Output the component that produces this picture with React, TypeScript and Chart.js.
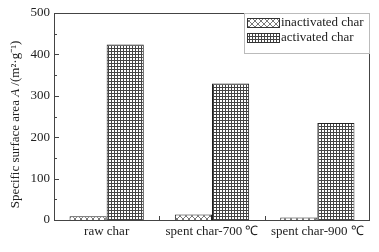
import React, { useEffect, useRef } from "react";
import { Chart, registerables } from "chart.js";

Chart.register(...registerables);

const categories = ["raw char", "spent char-700 ℃", "spent char-900 ℃"];
const seriesNames = ["inactivated char", "activated char"];
const inactivated = [9, 13, 6];
const activated = [424, 330, 234];
const yTicks = [0, 100, 200, 300, 400, 500];

const FONT = "'Liberation Serif', 'Times New Roman', Times, serif";
const AXIS = "#444";

function makeCross(): CanvasPattern | string {
  const c = document.createElement("canvas");
  c.width = 6;
  c.height = 6;
  const g = c.getContext("2d")!;
  g.fillStyle = "#fff";
  g.fillRect(0, 0, 6, 6);
  g.strokeStyle = "#555";
  g.lineWidth = 0.8;
  g.beginPath();
  g.moveTo(0, 0);
  g.lineTo(6, 6);
  g.moveTo(6, 0);
  g.lineTo(0, 6);
  g.stroke();
  return g.createPattern(c, "repeat") || "#fff";
}

function makeGrid(): CanvasPattern | string {
  const c = document.createElement("canvas");
  c.width = 3;
  c.height = 3;
  const g = c.getContext("2d")!;
  g.fillStyle = "#fff";
  g.fillRect(0, 0, 3, 3);
  g.fillStyle = "#444";
  g.fillRect(0, 0, 3, 1);
  g.fillRect(0, 0, 1, 3);
  return g.createPattern(c, "repeat") || "#888";
}

export default function App() {
  const ref = useRef<HTMLCanvasElement>(null);
  useEffect(() => {
    let chart: Chart | null = null;
    let cancelled = false;
    const build = () => {
      if (cancelled || !ref.current) return;
      const cross = makeCross();
      const grid = makeGrid();
      const decor = {
        id: "decor",
        afterDraw(ch: any) {
          const ctx = ch.ctx;
          const a = ch.chartArea;
          const ys = ch.scales.y;
          ctx.save();
          ctx.strokeStyle = AXIS;
          ctx.lineWidth = 1;
          ctx.strokeRect(Math.round(a.left) + 0.5, Math.round(a.top) + 0.5, Math.round(a.right - a.left) - 1, Math.round(a.bottom - a.top));
          ctx.beginPath();
          for (let v = 0; v <= 500; v += 50) {
            const y = Math.round(ys.getPixelForValue(v)) + 0.5;
            const len = v % 100 === 0 ? 5 : 3;
            ctx.moveTo(a.left, y);
            ctx.lineTo(a.left + len, y);
          }
          const n = categories.length;
          for (let i = 1; i < n; i++) {
            const x = Math.round(a.left + ((a.right - a.left) * i) / n) + 0.5;
            ctx.moveTo(x, a.bottom);
            ctx.lineTo(x, a.bottom - 4);
          }
          ctx.stroke();
          ctx.fillStyle = "#222";
          ctx.translate(16, (a.top + a.bottom) / 2 + 8);
          ctx.rotate(-Math.PI / 2);
          const parts: [string, string][] = [
            ["Specific surface area ", `13px ${FONT}`],
            ["A", `italic 13px ${FONT}`],
            [" /(m²·g⁻¹)", `13px ${FONT}`],
          ];
          let total = 0;
          for (const [t, f] of parts) {
            ctx.font = f;
            total += ctx.measureText(t).width;
          }
          let cx = -total / 2;
          ctx.textBaseline = "middle";
          ctx.textAlign = "left";
          for (const [t, f] of parts) {
            ctx.font = f;
            ctx.fillText(t, cx, 0);
            cx += ctx.measureText(t).width;
          }
          ctx.restore();
          ctx.save();
          const lx = a.right - 126;
          const ly = a.top;
          ctx.strokeStyle = "#bbb";
          ctx.lineWidth = 1;
          ctx.strokeRect(Math.round(lx) + 0.5, Math.round(ly) + 0.5, 125, 40);
          const fills = [cross, grid];
          for (let i = 0; i < 2; i++) {
            const sx = Math.round(lx + 3);
            const sy = Math.round(ly + 5 + i * 15);
            ctx.fillStyle = fills[i] as any;
            ctx.fillRect(sx, sy, 32, 9);
            ctx.strokeStyle = "#333";
            ctx.strokeRect(sx + 0.5, sy + 0.5, 32, 9);
            ctx.fillStyle = "#222";
            ctx.font = `13px ${FONT}`;
            ctx.textBaseline = "middle";
            ctx.textAlign = "left";
            ctx.fillText(seriesNames[i], sx + 34, sy + 5);
          }
          ctx.restore();
        },
      };
      chart = new Chart(ref.current, {
        type: "bar",
        data: {
          labels: categories,
          datasets: [
            {
              label: seriesNames[0],
              data: inactivated,
              backgroundColor: cross as any,
              borderColor: "#222",
              borderWidth: 1,
              categoryPercentage: 0.705,
              barPercentage: 1,
            },
            {
              label: seriesNames[1],
              data: activated,
              backgroundColor: grid as any,
              borderColor: "#222",
              borderWidth: 1,
              categoryPercentage: 0.705,
              barPercentage: 1,
            },
          ],
        },
        options: {
          responsive: false,
          animation: false,
          layout: { padding: { top: 13, right: 9, left: 0, bottom: 0 } },
          plugins: { legend: { display: false }, tooltip: { enabled: false } },
          scales: {
            x: {
              grid: { display: false, drawTicks: false },
              border: { display: false },
              ticks: { color: "#222", font: { family: FONT, size: 13 }, padding: 4, maxRotation: 0, autoSkip: false },
              afterFit: (s: any) => {
                s.height = 32;
              },
            },
            y: {
              min: 0,
              max: 500,
              afterBuildTicks: (s: any) => {
                s.ticks = yTicks.map((v) => ({ value: v }));
              },
              grid: { display: false, drawTicks: false },
              border: { display: false },
              ticks: { color: "#222", font: { family: FONT, size: 13 }, padding: 4 },
              afterFit: (s: any) => {
                s.width = 54;
              },
            },
          },
        },
        plugins: [decor],
      });
    };
    const fonts: any = (document as any).fonts;
    if (fonts && fonts.load) {
      Promise.all([
        fonts.load("13px 'Liberation Serif'"),
        fonts.load("italic 13px 'Liberation Serif'"),
      ])
        .catch(() => null)
        .then(build);
    } else {
      build();
    }
    return () => {
      cancelled = true;
      if (chart) chart.destroy();
    };
  }, []);
  return (
    <div style={{ position: "absolute", left: 0, top: 0, width: 379, height: 252, background: "#fff" }}>
      <canvas ref={ref} width={379} height={252} style={{ width: 379, height: 252 }} />
    </div>
  );
}
